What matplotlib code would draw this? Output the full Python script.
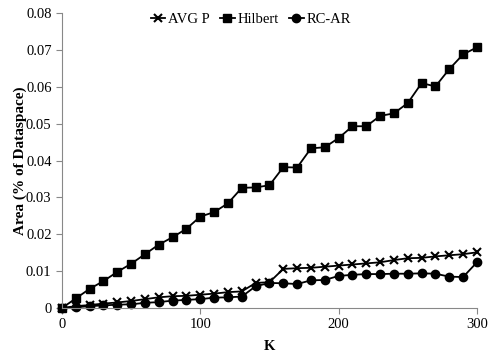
import matplotlib
matplotlib.use("Agg")
import matplotlib.pyplot as plt

K = list(range(0, 301, 10))
avg_p = [0, 0.0005, 0.0008, 0.0012, 0.0015, 0.0019, 0.0024, 0.0029, 0.0032, 0.0033,
         0.0036, 0.0039, 0.0043, 0.0045, 0.0068, 0.0070, 0.0106, 0.0108, 0.0109, 0.0112,
         0.0115, 0.0118, 0.0121, 0.0124, 0.0130, 0.0135, 0.0136, 0.0140, 0.0143, 0.0146, 0.0151]
hilbert = [0, 0.0026, 0.0052, 0.0073, 0.0098, 0.0120, 0.0146, 0.0172, 0.0192, 0.0215,
           0.0248, 0.0260, 0.0284, 0.0326, 0.0327, 0.0333, 0.0382, 0.0381, 0.0433, 0.0436,
           0.0461, 0.0493, 0.0493, 0.0521, 0.0528, 0.0556, 0.0610, 0.0601, 0.0648, 0.0688, 0.0707]
rc_ar = [0, 0.0002, 0.0005, 0.0007, 0.0009, 0.0010, 0.0014, 0.0016, 0.0020, 0.0022,
         0.0024, 0.0028, 0.0029, 0.0031, 0.0059, 0.0068, 0.0067, 0.0065, 0.0075, 0.0076,
         0.0087, 0.0090, 0.0092, 0.0092, 0.0093, 0.0093, 0.0094, 0.0093, 0.0085, 0.0084, 0.0124]
x_ticks = [0, 100, 200, 300]
y_ticks = [0, 0.01, 0.02, 0.03, 0.04, 0.05, 0.06, 0.07, 0.08]
y_labels = ["0", "0.01", "0.02", "0.03", "0.04", "0.05", "0.06", "0.07", "0.08"]

plt.rcParams['font.family'] = ['Liberation Serif', 'DejaVu Serif']
fig = plt.figure(figsize=(4.94, 3.53), dpi=100)
ax = fig.add_axes([0.1255, 0.1275, 0.84, 0.8355])

ax.plot(K, avg_p, color='black', marker='x', markersize=6, markeredgewidth=1.5, linewidth=1.3, label='AVG P')
ax.plot(K, hilbert, color='black', marker='s', markersize=6, linewidth=1.3, label='Hilbert')
ax.plot(K, rc_ar, color='black', marker='o', markersize=6, linewidth=1.3, label='RC-AR')

ax.set_xlim(0, 300)
ax.set_ylim(0, 0.08)
ax.set_xticks(x_ticks)
ax.set_yticks(y_ticks)
ax.set_yticklabels(y_labels)
for s in ['top', 'right']:
    ax.spines[s].set_visible(False)
for s in ['left', 'bottom']:
    ax.spines[s].set_color('#888888')
    ax.spines[s].set_linewidth(0.8)
ax.tick_params(axis='both', colors='#888888', labelcolor='black', labelsize=10.5, length=4, width=0.8)
ax.set_xlabel('K', fontsize=10.5, fontweight='bold', labelpad=6)
ax.set_ylabel('Area (% of Dataspace)', fontsize=11, fontweight='bold', labelpad=-1)
for l in ax.lines:
    l.set_clip_on(False)

ax.legend(loc='upper center', bbox_to_anchor=(0.455, 1.045), ncol=3, frameon=False,
          fontsize=10.5, handlelength=1.0, handletextpad=0.2, columnspacing=0.7)

fig.savefig('out.png', dpi=100)
